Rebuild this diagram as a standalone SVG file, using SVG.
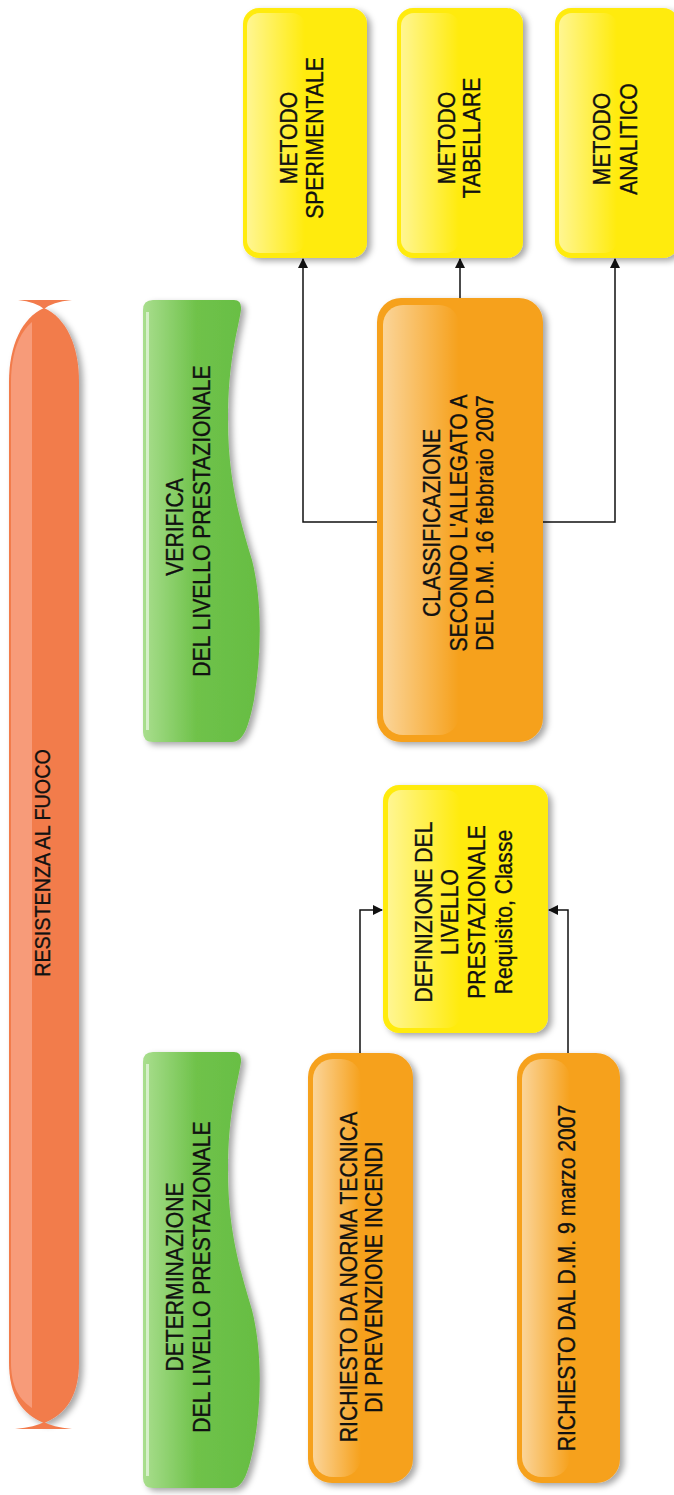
<svg xmlns="http://www.w3.org/2000/svg" width="674" height="1495" viewBox="0 0 674 1495">
  <defs>
    <filter id="shadow" x="-15%" y="-5%" width="135%" height="115%">
      <feDropShadow dx="4" dy="3" stdDeviation="3" flood-color="#000" flood-opacity="0.35"/>
    </filter>
    <linearGradient id="gloss" x1="0" y1="0" x2="1" y2="0">
      <stop offset="0" stop-color="#fff" stop-opacity="0.55"/>
      <stop offset="1" stop-color="#fff" stop-opacity="0"/>
    </linearGradient>
    <linearGradient id="greenFill" x1="143" y1="0" x2="262" y2="0" gradientUnits="userSpaceOnUse">
      <stop offset="0" stop-color="#A9DE8E"/>
      <stop offset="0.45" stop-color="#6FC24A"/>
      <stop offset="1" stop-color="#66BD42"/>
    </linearGradient>
    <marker id="arrow" viewBox="0 0 10 10" refX="9" refY="5" markerWidth="10" markerHeight="10" markerUnits="userSpaceOnUse" orient="auto">
      <path d="M0,0 L10,5 L0,10 Z" fill="#111"/>
    </marker>
    <style>
      text { font-family: "Liberation Sans", Arial, sans-serif; font-size: 23px; fill: #111; stroke: #111; stroke-width: 0.35; text-anchor: middle; }
      .title { font-size: 21.5px; }
      .orange { fill: #F6A11F; }
      .yellow { fill: #FFEB0A; }
      .green { fill: url(#greenFill); }
      .gloss { fill: url(#gloss); }
      .conn { fill: none; stroke: #111; stroke-width: 1.5; }
    </style>
  </defs>

  <!-- main bar -->
  <g id="resistenza">
    <g filter="url(#shadow)">
      <path d="M44,308 C66,318 79,345 79,382 L79,1362 C79,1396 66,1414 44,1423 C22,1414 9,1396 9,1362 L9,382 C9,345 22,318 44,308 Z" fill="#F27B4C"/>
    </g>
    <path d="M11,382 C11,352 20,332 32,322 L32,1408 C20,1400 11,1388 11,1362 Z" fill="#F8A688" opacity="0.75"/>
    <path d="M18,300 L72,300 Q52,302 44,309 Q36,302 18,300 Z" fill="#F27B4C"/>
    <path d="M15,1429 L72,1429 Q52,1427 44,1422 Q36,1427 15,1429 Z" fill="#F27B4C"/>
    <text class="title" transform="translate(50,863) rotate(-90) scale(0.92,1)">RESISTENZA AL FUOCO</text>
  </g>

  <!-- green headings -->
  <g id="verifica">
    <path class="green" filter="url(#shadow)" d="M153,300 H234 Q242,300 241,310 C238,330 228,360 228,420 C228,480 240,520 252,560 C262,600 262,650 254,700 C249,725 244,742 232,742 H153 Q143,742 143,732 V310 Q143,300 153,300 Z"/>
    <rect x="146" y="312" width="3" height="418" fill="#fff" opacity="0.55"/>
    <text transform="translate(183,527) rotate(-90) scale(0.92,1)">VERIFICA</text>
    <text transform="translate(210,521) rotate(-90) scale(0.92,1)">DEL LIVELLO PRESTAZIONALE</text>
  </g>

  <g id="determinazione">
    <path class="green" filter="url(#shadow)" d="M153,1052 H234 Q242,1052 241,1062 C238,1082 228,1112 228,1170 C228,1230 240,1270 252,1310 C262,1350 262,1400 254,1445 C249,1470 244,1488 232,1488 H153 Q143,1488 143,1478 V1062 Q143,1052 153,1052 Z"/>
    <rect x="146" y="1064" width="3" height="412" fill="#fff" opacity="0.55"/>
    <text transform="translate(183,1277) rotate(-90) scale(0.92,1)">DETERMINAZIONE</text>
    <text transform="translate(210,1277) rotate(-90) scale(0.92,1)">DEL LIVELLO PRESTAZIONALE</text>
  </g>

  <!-- connectors -->
  <g id="connectors">
    <path class="conn" d="M377,522 H303 V259" marker-end="url(#arrow)"/>
    <path class="conn" d="M460,298 V259" marker-end="url(#arrow)"/>
    <path class="conn" d="M543,522 H615 V259" marker-end="url(#arrow)"/>
    <path class="conn" d="M360,1053 V910 H382" marker-end="url(#arrow)"/>
    <path class="conn" d="M568,1053 V910 H549" marker-end="url(#arrow)"/>
  </g>

  <!-- method boxes -->
  <g id="metodo-sperimentale">
    <rect class="yellow" filter="url(#shadow)" x="243" y="8" width="124" height="250" rx="16"/>
    <rect class="gloss" x="247" y="13" width="58" height="240" rx="13"/>
    <text transform="translate(297,138) rotate(-90) scale(0.92,1)">METODO</text>
    <text transform="translate(323,138) rotate(-90) scale(0.92,1)">SPERIMENTALE</text>
  </g>
  <g id="metodo-tabellare">
    <rect class="yellow" filter="url(#shadow)" x="397" y="8" width="126" height="250" rx="16"/>
    <rect class="gloss" x="401" y="13" width="58" height="240" rx="13"/>
    <text transform="translate(455,138) rotate(-90) scale(0.92,1)">METODO</text>
    <text transform="translate(480,138) rotate(-90) scale(0.92,1)">TABELLARE</text>
  </g>
  <g id="metodo-analitico">
    <rect class="yellow" filter="url(#shadow)" x="555" y="8" width="124" height="250" rx="16"/>
    <rect class="gloss" x="559" y="13" width="58" height="240" rx="13"/>
    <text transform="translate(610,139) rotate(-90) scale(0.92,1)">METODO</text>
    <text transform="translate(637,139) rotate(-90) scale(0.92,1)">ANALITICO</text>
  </g>

  <!-- classification -->
  <g id="classificazione">
    <rect class="orange" filter="url(#shadow)" x="377" y="298" width="166" height="444" rx="24"/>
    <rect class="gloss" x="383" y="305" width="76" height="430" rx="20"/>
    <text transform="translate(440,523) rotate(-90) scale(0.92,1)">CLASSIFICAZIONE</text>
    <text transform="translate(467,523) rotate(-90) scale(0.92,1)">SECONDO L'ALLEGATO A</text>
    <text transform="translate(493,523) rotate(-90) scale(0.92,1)">DEL D.M. 16 febbraio 2007</text>
  </g>

  <!-- performance level definition -->
  <g id="definizione">
    <rect class="yellow" filter="url(#shadow)" x="383" y="785" width="165" height="248" rx="16"/>
    <rect class="gloss" x="388" y="790" width="72" height="238" rx="13"/>
    <text transform="translate(432,912) rotate(-90) scale(0.92,1)">DEFINIZIONE DEL</text>
    <text transform="translate(458,912) rotate(-90) scale(0.92,1)">LIVELLO</text>
    <text transform="translate(485,912) rotate(-90) scale(0.92,1)">PRESTAZIONALE</text>
    <text transform="translate(512,912) rotate(-90) scale(0.92,1)">Requisito, Classe</text>
  </g>

  <!-- requirement sources -->
  <g id="richiesto-norma">
    <rect class="orange" filter="url(#shadow)" x="308" y="1053" width="105" height="430" rx="24"/>
    <rect class="gloss" x="313" y="1059" width="48" height="418" rx="20"/>
    <text transform="translate(357,1277) rotate(-90) scale(0.92,1)">RICHIESTO DA NORMA TECNICA</text>
    <text transform="translate(382,1277) rotate(-90) scale(0.92,1)">DI PREVENZIONE INCENDI</text>
  </g>
  <g id="richiesto-dm">
    <rect class="orange" filter="url(#shadow)" x="517" y="1053" width="103" height="430" rx="24"/>
    <rect class="gloss" x="522" y="1059" width="48" height="418" rx="20"/>
    <text transform="translate(575,1278) rotate(-90) scale(0.92,1)">RICHIESTO DAL D.M. 9 marzo 2007</text>
  </g>
</svg>
